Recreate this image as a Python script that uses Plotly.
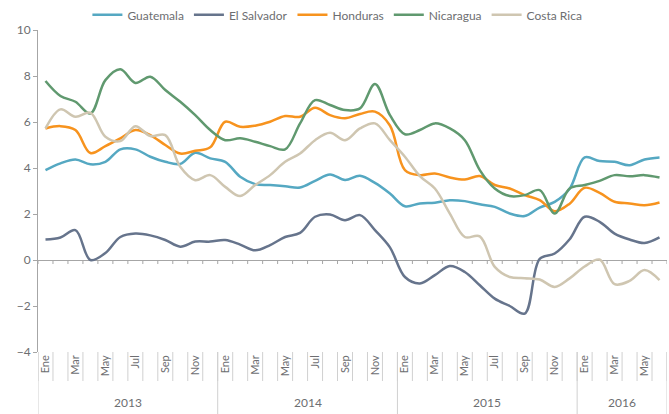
# Inflation by country, monthly, Ene 2013 - Jun 2016, smoothed lines
import plotly.graph_objects as go

months = ["Ene", "Feb", "Mar", "Abr", "May", "Jun", "Jul", "Ago", "Sep", "Oct", "Nov", "Dic"]
years = ["2013", "2014", "2015", "2016"]
n_months = 42  # Ene 2013 .. Jun 2016

guatemala = [3.91, 4.20, 4.37, 4.16, 4.27, 4.81, 4.81, 4.49, 4.27, 4.18, 4.66, 4.42,
             4.27, 3.62, 3.30, 3.26, 3.21, 3.15, 3.44, 3.72, 3.48, 3.66, 3.35, 2.89,
             2.34, 2.46, 2.49, 2.60, 2.56, 2.42, 2.31, 2.02, 1.91, 2.28, 2.53, 3.10,
             4.46, 4.30, 4.27, 4.12, 4.37, 4.46]
el_salvador = [0.89, 0.98, 1.30, 0.00, 0.30, 1.00, 1.15, 1.07, 0.87, 0.58, 0.80, 0.80,
               0.87, 0.67, 0.42, 0.65, 1.00, 1.18, 1.88, 1.98, 1.73, 1.95, 1.30, 0.55,
               -0.74, -1.02, -0.66, -0.26, -0.52, -1.10, -1.68, -2.00, -2.33, 0.05, 0.28, 0.90,
               1.88, 1.66, 1.15, 0.89, 0.74, 0.98]
honduras = [5.72, 5.82, 5.65, 4.65, 4.95, 5.29, 5.65, 5.43, 5.00, 4.63, 4.75, 4.90,
            6.01, 5.79, 5.84, 6.01, 6.26, 6.23, 6.62, 6.30, 6.16, 6.35, 6.45, 5.85,
            3.91, 3.69, 3.76, 3.59, 3.50, 3.65, 3.26, 3.11, 2.82, 2.60, 2.12, 2.45,
            3.14, 2.92, 2.53, 2.46, 2.38, 2.50]
nicaragua = [7.78, 7.13, 6.88, 6.37, 7.82, 8.29, 7.70, 7.97, 7.39, 6.88, 6.30, 5.65,
             5.21, 5.29, 5.14, 4.95, 4.81, 5.94, 6.95, 6.74, 6.52, 6.59, 7.65, 6.30,
             5.47, 5.65, 5.94, 5.72, 5.21, 3.91, 3.11, 2.78, 2.82, 3.04, 2.02, 3.11,
             3.26, 3.44, 3.69, 3.64, 3.69, 3.59]
costa_rica = [5.72, 6.55, 6.23, 6.40, 5.36, 5.17, 5.82, 5.39, 5.43, 4.05, 3.47, 3.69,
              3.18, 2.78, 3.26, 3.69, 4.27, 4.63, 5.21, 5.53, 5.21, 5.72, 5.94, 5.21,
              4.49, 3.65, 3.11, 2.02, 1.00, 1.03, -0.30, -0.74, -0.79, -0.85, -1.17, -0.80,
              -0.28, 0.02, -1.05, -0.91, -0.44, -0.88]

series = [
    ("Guatemala", guatemala, "#55a8c2"),
    ("El Salvador", el_salvador, "#66748c"),
    ("Honduras", honduras, "#f7931e"),
    ("Nicaragua", nicaragua, "#60996f"),
    ("Costa Rica", costa_rica, "#cfc6b1"),
]

FONT = "Lato"
TXT = "#6d6e71"
AXIS = "#a6a6a6"
SEP = "#d0d0d0"
PLOT_H = 414 - 30 - 62  # plot area height in px

x = list(range(n_months))
fig = go.Figure()
for name, vals, color in series:
    fig.add_trace(go.Scatter(
        x=x, y=vals, name=name, mode="lines",
        line=dict(color=color, width=2.5, shape="spline", smoothing=1.0),
    ))

# month labels on odd months only, separators between months
tick_idx = [i for i in x if i % 2 == 0]
tick_txt = [months[i % 12] for i in tick_idx]
boundaries = [i - 0.5 for i in range(n_months + 1)]
year_starts = [0, 12, 24, 36, n_months]

fig.update_layout(
    width=669, height=414,
    margin=dict(l=38, r=2, t=30, b=62, autoexpand=False),
    paper_bgcolor="white", plot_bgcolor="white",
    font=dict(family=FONT, size=12, color=TXT),
    showlegend=True,
    legend=dict(orientation="h", x=0.476, xanchor="center", y=1.047, yanchor="middle",
                font=dict(family=FONT, size=12, color=TXT), itemwidth=30,
                bgcolor="rgba(0,0,0,0)"),
    xaxis=dict(
        range=[-0.5, n_months - 0.5], showgrid=False, zeroline=False, showline=False,
        automargin=False,
        tickmode="array", tickvals=tick_idx, ticktext=tick_txt, tickangle=-90,
        ticks="", tickfont=dict(size=11, color=TXT),
    ),
    yaxis=dict(
        range=[-4, 10], dtick=2, showgrid=False, automargin=False,
        zeroline=True, zerolinecolor=AXIS, zerolinewidth=1,
        showline=True, linecolor=AXIS, linewidth=1,
        ticks="outside", ticklen=4, tickcolor=AXIS,
        tickfont=dict(size=12, color=TXT),
    ),
)

# small tick marks on the zero line, long separators through the month labels
tick_units = 4 * 14 / PLOT_H
for b in boundaries:
    fig.add_shape(type="line", xref="x", yref="y", x0=b, x1=b, y0=0, y1=-tick_units,
                  line=dict(color=AXIS, width=1), layer="below")
    fig.add_shape(type="line", xref="x", yref="paper", x0=b, x1=b, y0=0, y1=-29 / PLOT_H,
                  line=dict(color=SEP, width=1))

# year separators and labels under the month labels
for b in year_starts:
    fig.add_shape(type="line", xref="x", yref="paper", x0=b - 0.5, x1=b - 0.5,
                  y0=0, y1=-62 / PLOT_H, line=dict(color=SEP, width=1))
for i, yr in enumerate(years):
    mid = (year_starts[i] + year_starts[i + 1] - 1) / 2
    fig.add_annotation(x=mid, y=-50 / PLOT_H, xref="x", yref="paper", text=yr,
                       showarrow=False, yanchor="middle",
                       font=dict(family=FONT, size=12, color=TXT))

# drop the browser's default body margin so the figure sits at the page corner
fig.write_html("out.html", config={"displayModeBar": False},
               post_script="document.body.style.margin='0px';")
